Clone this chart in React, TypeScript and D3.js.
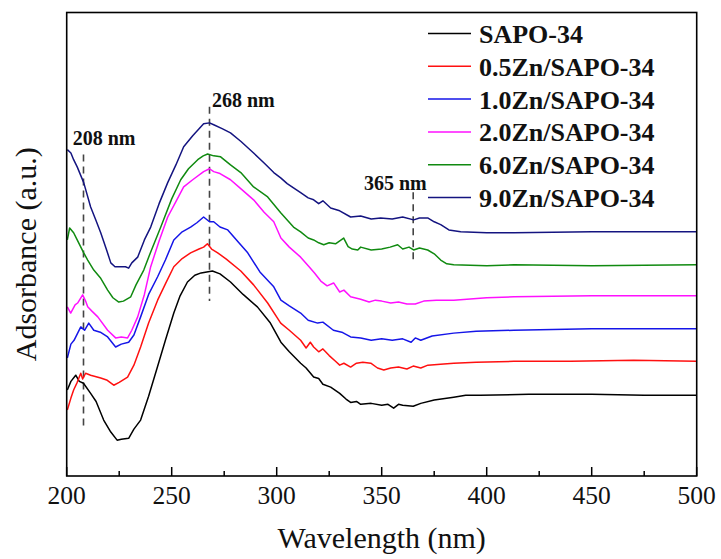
import React from "react";
import * as d3 from "d3";

type Pt = [number, number];

const seriesNames = [
  "SAPO-34",
  "0.5Zn/SAPO-34",
  "1.0Zn/SAPO-34",
  "2.0Zn/SAPO-34",
  "6.0Zn/SAPO-34",
  "9.0Zn/SAPO-34",
];
const seriesColors = ["#000000", "#ff1010", "#1515e8", "#ff10ff", "#108a10", "#141480"];

const sapo34: Pt[] = [
  [200.3, 21.0], [202, 22.8], [204.3, 24.1], [206, 22.8], [208, 22.4], [211.4, 20.3], [214, 18.6],
  [217.6, 14.7], [221, 12.2], [224, 10.5], [226, 10.7], [229.5, 10.9], [232, 12.8], [235.2, 14.7],
  [239, 19.7], [243.2, 25.8], [247, 31.4], [251, 37.1], [254, 40.7], [257.5, 43.6], [261, 45.0],
  [264, 45.5], [269.4, 45.9], [273, 45.3], [278, 43.6], [284, 41.0], [290.8, 38.4], [297, 35.0],
  [302, 31.0], [306, 29.0], [311.4, 26.6], [314, 25.6], [317.6, 23.7], [320, 23.4], [322, 22.2],
  [325.7, 21.6], [330, 20.3], [333, 19.1], [335.2, 18.4], [338, 18.6], [340, 18.0], [345, 18.2],
  [350, 17.8], [353, 18.0], [355.7, 17.2], [358, 18.0], [360, 17.8], [365, 17.6], [368.6, 18.2],
  [375, 18.9], [384.3, 19.5], [390, 19.9], [397, 19.9], [420, 20.1], [450, 20.1], [475, 19.9], [500, 19.9],
];

const zn05: Pt[] = [
  [200.3, 16.8], [202, 19.3], [203.3, 21.0], [205, 22.6], [206.7, 24.5], [207.6, 23.3], [209, 24.5],
  [211.4, 24.1], [216.2, 23.5], [219, 23.1], [222.4, 22.0], [225, 22.6], [229, 23.7], [232, 26.2],
  [235.2, 30.0], [239, 35.0], [243.3, 39.8], [247, 43.2], [251, 46.8], [255, 48.5], [259, 49.7],
  [263, 50.5], [265.2, 50.9], [267, 51.6], [269, 50.5], [271.9, 49.7], [276, 48.4], [282.9, 45.9],
  [289, 43.0], [295.7, 39.2], [301.9, 35.0], [306, 33.5], [311.4, 31.4], [314, 29.8], [316, 31.0],
  [317.6, 30.0], [320, 29.0], [322, 29.6], [325, 28.2], [328, 27.0], [330, 26.2], [332, 26.6],
  [335.2, 25.8], [338, 26.6], [341, 26.8], [344.8, 26.6], [348, 25.6], [351, 25.2], [354.3, 25.6],
  [358, 25.8], [362, 25.4], [365, 26.0], [368.6, 25.6], [372, 26.2], [378, 26.4], [384.3, 26.6],
  [395, 26.8], [412.9, 27.0], [440, 27.0], [470, 27.2], [500, 27.0],
];

const zn10: Pt[] = [
  [200.3, 27.7], [202, 30.6], [203.5, 31.4], [206.7, 34.2], [208.5, 33.5], [210.5, 35.0], [212.9, 33.5],
  [216, 33.1], [219.5, 32.1], [223.3, 30.0], [226, 30.6], [229.5, 31.0], [232, 32.5], [235.2, 36.3],
  [239, 41.0], [243.3, 44.7], [247, 48.2], [251, 52.4], [255, 54.1], [259, 55.1], [262, 56.0],
  [265.2, 57.2], [268, 56.2], [270, 56.2], [273, 55.1], [276.7, 54.5], [282, 51.8], [286.2, 49.7],
  [292, 45.7], [298.6, 42.6], [302, 39.8], [306, 38.6], [311.4, 37.1], [315, 35.6], [319.5, 35.0],
  [322, 35.2], [327, 33.5], [331, 33.1], [335.2, 32.1], [340, 31.9], [345, 31.4], [350, 31.7],
  [355, 31.4], [360, 31.7], [364, 31.0], [366, 31.9], [368.6, 31.4], [374, 32.3], [384.3, 32.9],
  [395, 33.3], [412.9, 33.5], [450, 33.8], [500, 33.8],
];

const zn20: Pt[] = [
  [200.3, 38.4], [201.9, 37.1], [204, 38.8], [205.2, 39.2], [207.6, 40.9], [209, 39.6], [210, 38.4],
  [212, 37.5], [214.8, 36.3], [219.5, 33.5], [223.3, 31.9], [226, 32.1], [229, 31.9], [231, 33.5],
  [233.8, 36.3], [237, 41.0], [240, 46.8], [244, 52.2], [248.1, 57.2], [252, 60.4], [255.7, 63.5],
  [260, 65.0], [265.2, 66.7], [268, 67.3], [270, 66.7], [273, 66.3], [278, 65.0], [283, 63.1],
  [289, 60.8], [294, 58.2], [298.6, 56.2], [302, 52.8], [306, 50.9], [311.4, 48.8], [315, 47.0],
  [318, 45.5], [321, 43.8], [324, 42.8], [327.1, 43.4], [330, 41.5], [332, 41.9], [335.2, 40.5],
  [340, 40.0], [344, 39.4], [347, 39.8], [350, 39.6], [354.3, 39.2], [358, 39.4], [362, 39.0],
  [366, 39.0], [370, 39.6], [376, 39.8], [384.3, 39.8], [400, 40.3], [412.9, 40.5], [450, 40.7], [500, 40.7],
];

const zn60: Pt[] = [
  [200.3, 52.4], [201.4, 54.9], [203.3, 53.9], [205, 52.4], [208.1, 49.7], [210, 48.2], [212.9, 46.1],
  [216, 44.5], [219.5, 41.9], [222, 40.3], [224.8, 39.4], [227, 39.6], [230.5, 40.5], [233, 43.0],
  [236.7, 46.1], [240, 49.9], [244.8, 55.1], [250, 61.0], [254.3, 65.0], [258, 67.3], [262.4, 69.2],
  [265, 70.0], [267.1, 70.4], [270, 70.0], [273.3, 69.8], [278, 68.1], [282.9, 66.5], [289, 63.5],
  [295.7, 61.4], [301.9, 58.1], [305, 56.6], [308, 55.1], [311.4, 54.1], [315, 52.8], [317.6, 52.4],
  [320, 51.8], [322.4, 51.4], [325, 51.8], [328, 51.6], [331.9, 52.8], [334, 51.0], [336, 50.5],
  [338.6, 50.3], [340, 50.9], [345, 50.3], [350, 50.5], [354, 50.9], [357.6, 51.4], [360, 50.5],
  [363, 50.9], [365.2, 50.3], [368, 50.7], [371.9, 50.3], [375, 49.5], [378.1, 48.2], [381, 47.4],
  [384.3, 47.2], [400, 47.0], [412.9, 47.2], [450, 47.0], [500, 47.2],
];

const zn90: Pt[] = [
  [200.3, 71.3], [202, 70.6], [203.3, 69.2], [205, 67.7], [208.1, 64.4], [211.4, 59.3], [214, 56.4],
  [216.2, 53.9], [219, 50.3], [221, 47.6], [223, 46.8], [225.7, 46.8], [228, 46.8], [229.5, 46.5],
  [231, 47.6], [233.8, 48.8], [237, 52.4], [240, 55.1], [244, 60.0], [248.1, 64.4], [252, 68.1],
  [255.7, 71.9], [260, 74.2], [265.2, 76.7], [268, 76.9], [270, 76.5], [274, 75.7], [278, 74.8],
  [283, 73.0], [289, 70.6], [294, 68.5], [298.6, 66.5], [301.9, 65.4], [305, 64.2], [308, 63.3],
  [311.4, 62.3], [315, 61.2], [317.6, 60.8], [320, 60.0], [322, 60.6], [325.7, 59.1], [330, 58.5],
  [335.2, 57.2], [340, 57.4], [345, 56.8], [349.5, 57.0], [355, 56.8], [360, 57.2], [365.2, 56.6],
  [368, 57.0], [371.9, 57.0], [375, 56.2], [378.1, 55.6], [382, 54.5], [387.6, 54.1], [400, 53.9],
  [412.9, 53.9], [450, 54.1], [500, 54.1],
];

const allSeries = [sapo34, zn05, zn10, zn20, zn60, zn90];

const xTicks = [200, 250, 300, 350, 400, 450, 500];
const xMinorTicks = [225, 275, 325, 375, 425, 475];

// annotation: [wavelength, label, yTop(a.u.), yBottom(a.u.)]
const peakWavelengths = [208, 268, 365];
const peakLabels = ["208 nm", "268 nm", "365 nm"];
const peakTop = [70.3, 80.3, 62.4];
const peakBottom = [13.0, 39.6, 47.3];

const W = 721;
const H = 559;
const M = { left: 66.7, right: 696.7, top: 12.5, bottom: 476 };
const FONT = "'Liberation Serif', 'Times New Roman', Times, serif";

export default function App() {
  const x = d3.scaleLinear().domain([200, 500]).range([M.left, M.right]);
  const y = d3.scaleLinear().domain([3, 100]).range([M.bottom, M.top]);
  const line = d3
    .line<Pt>()
    .x((d) => x(d[0]))
    .y((d) => y(d[1]));

  const legendX0 = 428;
  const legendX1 = 471;
  const legendTextX = 479;
  const legendBase0 = 43;
  const legendStep = 32.8;

  return (
    <svg
      width={W}
      height={H}
      style={{ position: "absolute", left: 0, top: 0, background: "#fff" }}
      fontFamily={FONT}
    >
      <rect x={0} y={0} width={W} height={H} fill="#fff" />
      <defs>
        <clipPath id="plotClip">
          <rect x={M.left} y={M.top} width={M.right - M.left} height={M.bottom - M.top} />
        </clipPath>
      </defs>

      {/* dashed peak markers */}
      {peakWavelengths.map((w, i) => (
        <line
          key={"d" + i}
          x1={x(w)}
          x2={x(w)}
          y1={y(peakTop[i])}
          y2={y(peakBottom[i])}
          stroke="#444"
          strokeWidth={1.6}
          strokeDasharray="7,5"
        />
      ))}

      <g clipPath="url(#plotClip)">
        {allSeries.map((s, i) => (
          <path
            key={i}
            d={line(s) || ""}
            fill="none"
            stroke={seriesColors[i]}
            strokeWidth={1.5}
            strokeLinejoin="round"
          />
        ))}
      </g>

      {/* frame */}
      <rect
        x={M.left}
        y={M.top}
        width={M.right - M.left}
        height={M.bottom - M.top}
        fill="none"
        stroke="#000"
        strokeWidth={1.6}
      />

      {/* ticks */}
      {xTicks.map((t) => (
        <g key={"t" + t}>
          <line x1={x(t)} x2={x(t)} y1={M.bottom} y2={M.bottom - 9} stroke="#000" strokeWidth={1.5} />
          <text x={x(t)} y={504} textAnchor="middle" fontSize={25.5} fill="#111">
            {t}
          </text>
        </g>
      ))}
      {xMinorTicks.map((t) => (
        <line key={"m" + t} x1={x(t)} x2={x(t)} y1={M.bottom} y2={M.bottom - 5} stroke="#000" strokeWidth={1.5} />
      ))}

      {/* axis titles */}
      <text x={(M.left + M.right) / 2} y={548} textAnchor="middle" fontSize={30} fill="#111">
        Wavelength (nm)
      </text>
      <text
        transform={`translate(36, ${(M.top + M.bottom) / 2 + 10}) rotate(-90)`}
        textAnchor="middle"
        fontSize={30}
        fill="#111"
      >
        Adsorbance (a.u.)
      </text>

      {/* peak labels */}
      <text x={72.7} y={144.5} fontSize={20} fontWeight="bold" fill="#111">
        {peakLabels[0]}
      </text>
      <text x={212} y={107} fontSize={20} fontWeight="bold" fill="#111">
        {peakLabels[1]}
      </text>
      <text x={364} y={190} fontSize={20} fontWeight="bold" fill="#111">
        {peakLabels[2]}
      </text>

      {/* legend */}
      {seriesNames.map((n, i) => {
        const base = legendBase0 + i * legendStep;
        return (
          <g key={"l" + i}>
            <line
              x1={legendX0}
              x2={legendX1}
              y1={base - 9.5}
              y2={base - 9.5}
              stroke={seriesColors[i]}
              strokeWidth={1.5}
            />
            <text x={legendTextX} y={base} fontSize={26} fontWeight="bold" fill="#111">
              {n}
            </text>
          </g>
        );
      })}
    </svg>
  );
}
